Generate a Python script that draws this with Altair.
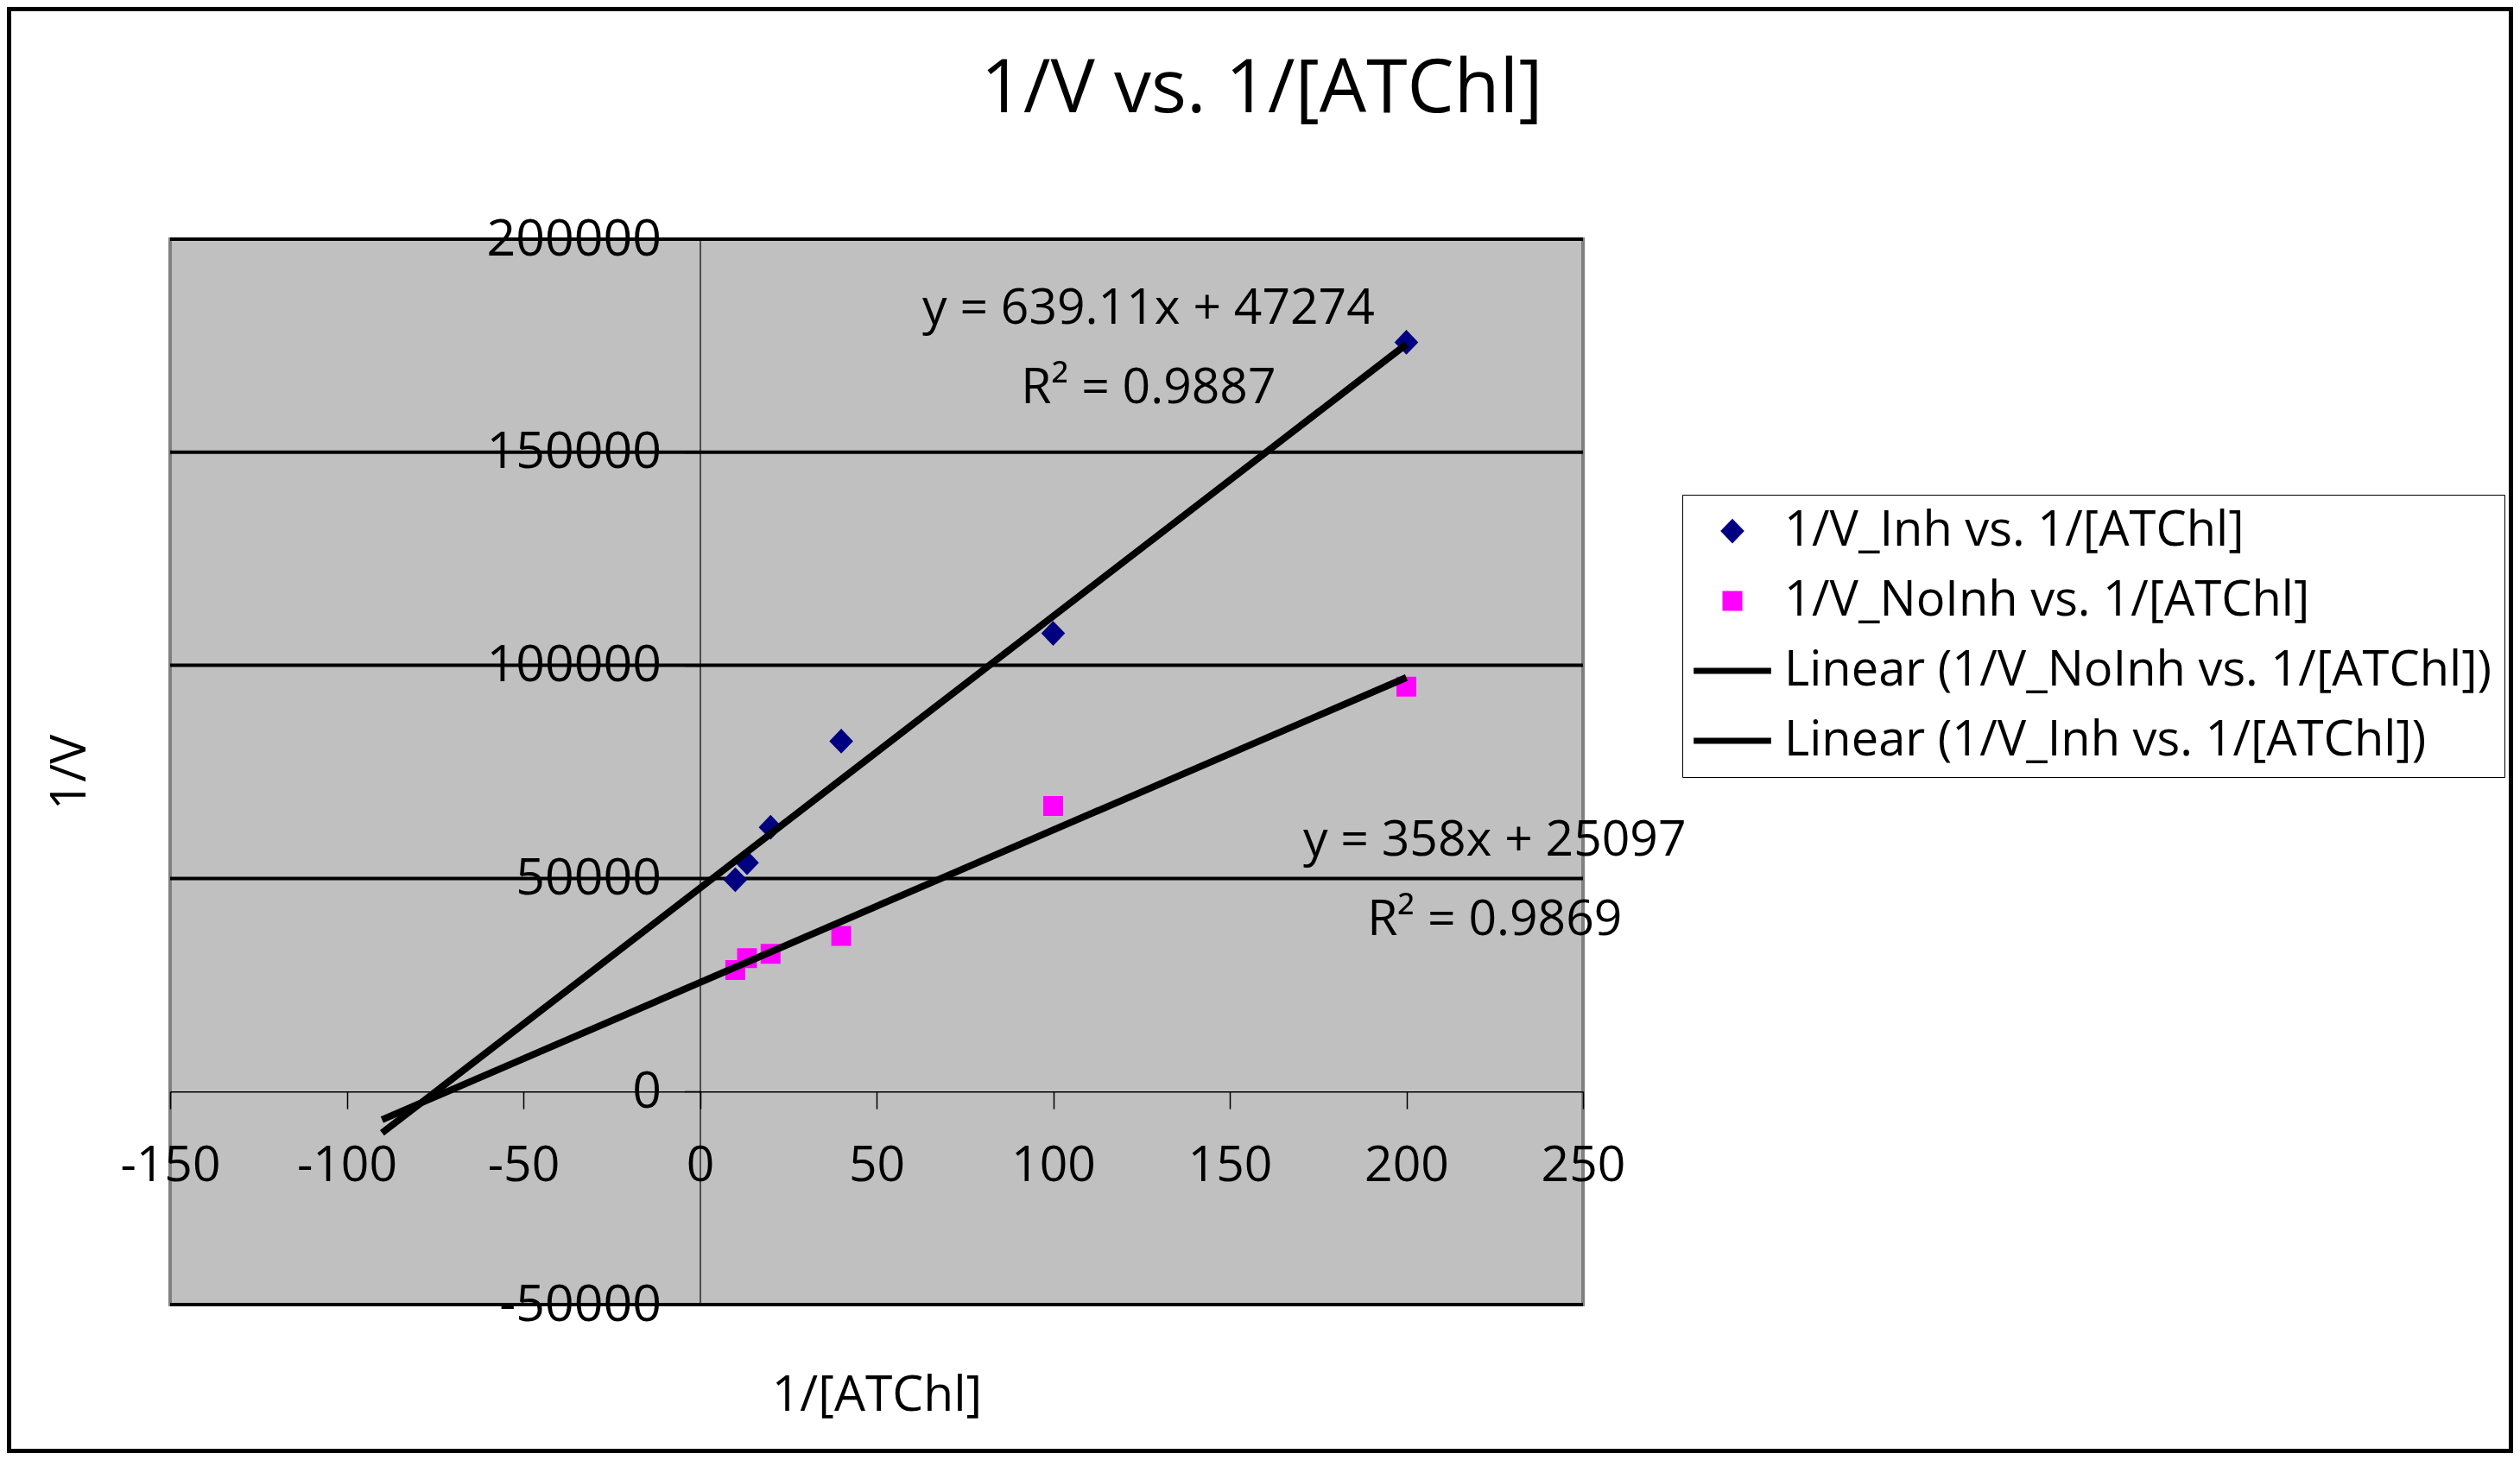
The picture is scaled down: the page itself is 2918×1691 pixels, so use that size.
import altair as alt
import pandas as pd

# ---- data ----
inv_conc = [10, 13.33, 20, 40, 100, 200]
inv_v_inh = [49700, 53700, 62000, 82200, 107500, 175800]
inv_v_noinh = [28500, 31300, 32300, 36500, 67000, 95000]

series_names = [
    "1/V_Inh vs. 1/[ATChl]",
    "1/V_NoInh vs. 1/[ATChl]",
    "Linear (1/V_NoInh vs. 1/[ATChl])",
    "Linear (1/V_Inh vs. 1/[ATChl])",
]
series_colors = ["#000080", "#FF00FF", "#000000", "#000000"]
LINE_SYMBOL = "M-3.9,-0.3L3.9,-0.3L3.9,0.3L-3.9,0.3Z"
DIAMOND = "M-1.2,0L0,-1.25L1.2,0L0,1.25Z"
series_shapes = [DIAMOND, "square", LINE_SYMBOL, LINE_SYMBOL]

x_ticks = [-150, -100, -50, 0, 50, 100, 150, 200, 250]
y_ticks = [-50000, 0, 50000, 100000, 150000, 200000]
grid_values = [-50000, 50000, 100000, 150000, 200000]
trend_extent = [-90, 200]

chart_title = ["1/V vs. 1/[ATChl]"]
eq_text = ["y = 639.11x + 47274", "R² = 0.9887", "y = 358x + 25097", "R² = 0.9869"]
eq_x = [127, 127, 225, 225]
eq_y = [183500, 165000, 58700, 40200]

FONT = "Open Sans"
W, H = 1636, 1234
PAD_L, PAD_T = 189, 269
CANVAS_W, CANVAS_H = 2902, 1675

pts = pd.DataFrame({
    "x": inv_conc + inv_conc,
    "y": inv_v_inh + inv_v_noinh,
    "series": [series_names[0]] * len(inv_conc) + [series_names[1]] * len(inv_conc),
})
grid_df = pd.DataFrame({"y": grid_values})
eq_df = pd.DataFrame({"x": eq_x, "y": eq_y, "text": eq_text})
title_df = pd.DataFrame({"text": chart_title})
frame_df = pd.DataFrame({"k": [0]})

xscale = alt.Scale(domain=[-150, 250], nice=False, zero=False)
yscale = alt.Scale(domain=[-50000, 200000], nice=False, zero=False)

x_enc = alt.X("x:Q", scale=xscale, axis=alt.Axis(
    values=x_ticks, orient="bottom", offset=-(H * 50000 / 250000), grid=False,
    domainColor="black", domainWidth=1.5, tickColor="black", tickWidth=1.5, tickSize=20,
    labelFont=FONT, labelFontSize=57, labelColor="black", labelPadding=38, labelLimit=0,
    labelFlush=False, labelOverlap=False, labelExpr="datum.value + ''",
    title="1/[ATChl]", titleFont=FONT, titleFontSize=57, titleFontWeight="normal",
    titleColor="black", titleX=W / 2, titleY=352, titleBaseline="middle", titleAlign="center"))
y_enc = alt.Y("y:Q", scale=yscale, axis=alt.Axis(
    values=y_ticks, orient="left", offset=-(W * 150 / 400), grid=False,
    domainColor="black", domainWidth=1.2, tickColor="black", tickWidth=1.5, tickSize=18,
    labelFont=FONT, labelFontSize=59, labelColor="black", labelPadding=27, labelLimit=0,
    labelOverlap=False, labelExpr="datum.value + ''",
    title="1/V", titleFont=FONT, titleFontSize=57, titleFontWeight="normal",
    titleColor="black", titleX=-729.5, titleY=H / 2, titleAngle=270,
    titleBaseline="middle", titleAlign="center"))

legend = alt.Legend(
    orient="none", legendX=1751, legendY=296, title=None,
    labelFont=FONT, labelFontSize=56, labelColor="black", labelLimit=0,
    labelOffset=32, symbolOffset=16, symbolSize=529, symbolStrokeWidth=0,
    strokeColor="black", padding=14, rowPadding=25)

frame = alt.Chart(frame_df).mark_rect(fill="transparent", stroke="black", strokeWidth=5).encode(
    x=alt.value(-PAD_L + 2.5), x2=alt.value(CANVAS_W - PAD_L - 2.5),
    y=alt.value(-PAD_T + 2.5), y2=alt.value(CANVAS_H - PAD_T - 2.5))

title = alt.Chart(title_df).mark_text(font=FONT, fontSize=86, color="black",
                                      align="center", baseline="middle").encode(
    text="text:N", x=alt.value(1264), y=alt.value(-173))

grid = alt.Chart(grid_df).mark_rule(color="black", strokeWidth=4).encode(
    y=y_enc, x=alt.value(0), x2=alt.value(W))

points = alt.Chart(pts).mark_point(filled=True, size=529, opacity=1).encode(
    x=x_enc, y=y_enc,
    color=alt.Color("series:N", scale=alt.Scale(domain=series_names, range=series_colors),
                    legend=legend),
    shape=alt.Shape("series:N", scale=alt.Scale(domain=series_names, range=series_shapes),
                    legend=legend),
)

lines = alt.Chart(pts).transform_regression(
    "x", "y", groupby=["series"], extent=trend_extent
).mark_line(color="black", strokeWidth=8).encode(x=x_enc, y=y_enc, detail="series:N")

eqs = alt.Chart(eq_df).mark_text(font=FONT, fontSize=57, color="black",
                                 align="center", baseline="middle").encode(
    x=x_enc, y=y_enc, text="text:N")

chart = alt.layer(frame, title, grid, points, lines, eqs).properties(
    width=W, height=H,
    autosize=alt.AutoSizeParams(type="none"),
    padding={"left": PAD_L, "top": PAD_T, "right": CANVAS_W - PAD_L - W,
             "bottom": CANVAS_H - PAD_T - H},
).configure(background="white").configure_view(fill="#C0C0C0", stroke="#808080", strokeWidth=4)

chart.save("out.html", embed_options={"renderer": "svg", "actions": False})
